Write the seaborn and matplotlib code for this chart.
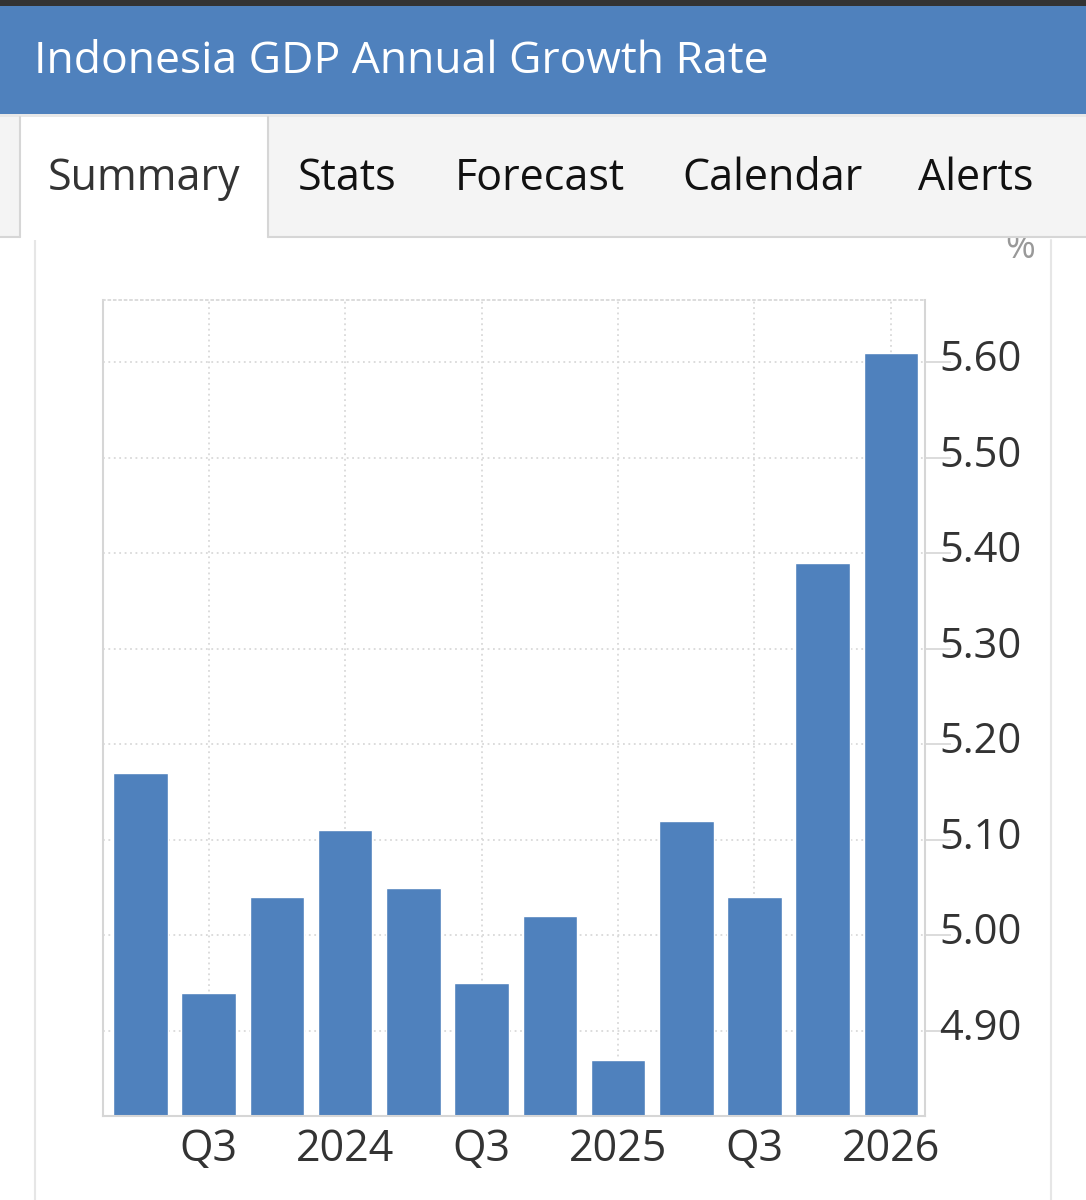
import matplotlib
matplotlib.use("Agg")
import matplotlib.pyplot as plt
import seaborn as sns
import pandas as pd
from matplotlib.patches import Rectangle
from matplotlib.lines import Line2D
from matplotlib.transforms import ScaledTranslation

# ---- data ----
quarters = ["Q2 2023", "Q3 2023", "Q4 2023", "Q1 2024", "Q2 2024", "Q3 2024",
            "Q4 2024", "Q1 2025", "Q2 2025", "Q3 2025", "Q4 2025", "Q1 2026"]
growth = [5.17, 4.94, 5.04, 5.11, 5.05, 4.95, 5.02, 4.87, 5.12, 5.04, 5.39, 5.61]
tick_quarters = ["Q3 2023", "Q1 2024", "Q3 2024", "Q1 2025", "Q3 2025", "Q1 2026"]
tick_labels = ["Q3", "2024", "Q3", "2025", "Q3", "2026"]
y_ticks = [4.90, 5.00, 5.10, 5.20, 5.30, 5.40, 5.50, 5.60]
title = "Indonesia GDP Annual Growth Rate"
tabs = ["Summary", "Stats", "Forecast", "Calendar", "Alerts"]

df = pd.DataFrame({"quarter": quarters, "growth": growth})

sns.set_theme(style="white")
plt.rcParams['font.family'] = ['Open Sans', 'DejaVu Sans']

W, H = 1086, 1200
fig = plt.figure(figsize=(W / 100, H / 100), dpi=100)
fig.patch.set_facecolor("white")

BLUE = "#4f81bd"
BORDER = "#d6d6d6"


def box(x0, y0, x1, y1, color, z=0):
    fig.patches.append(Rectangle((x0 / W, 1 - y1 / H), (x1 - x0) / W, (y1 - y0) / H,
                                 transform=fig.transFigure, facecolor=color,
                                 edgecolor="none", zorder=z))


def line(x0, y0, x1, y1, color=BORDER, lw=1.5, z=3):
    fig.lines.append(Line2D([x0 / W, x1 / W], [1 - y0 / H, 1 - y1 / H],
                            transform=fig.transFigure, color=color, lw=lw, zorder=z))


# page chrome
box(0, 0, W, 6, "#333333", z=1)
box(0, 6, W, 114, BLUE, z=1)
box(0, 114, W, 117, "#e8e8e8", z=1)
box(0, 117, W, 237, "#f4f4f4", z=2)
box(20, 117, 268, 240, "white", z=2.5)
line(0, 237, 20, 237, z=3)
line(268, 237, W, 237, z=3)
line(20, 117, 20, 237, z=3)
line(268, 117, 268, 237, z=3)
line(35, 240, 35, H, color="#e6e6e6", lw=1.5, z=1)
line(1051, 240, 1051, H, color="#e6e6e6", lw=1.5, z=1)

fig.text(34 / W, 1 - 62 / H, title, color="white", fontsize=32, fontweight="medium",
         ha="left", va="center", zorder=3)
tab_x = [48, 298, 455, 682, 918]
for i, (t, x) in enumerate(zip(tabs, tab_x)):
    fig.text(x / W, 1 - 179 / H, t, color="#333333" if i == 0 else "#111111",
             fontsize=31, ha="left", va="center", zorder=3)

fig.text(1020 / W, 1 - 249 / H, "%", color="#999999", fontsize=26,
         ha="center", va="center", zorder=1)

# ---- chart ----
ax = fig.add_axes([103 / W, 1 - 1116 / H, (925 - 103) / W, (1116 - 300) / H])
ax.set_facecolor("white")
sns.barplot(data=df, x="quarter", y="growth", color=BLUE, saturation=1,
            width=0.8, ax=ax, zorder=2)
ax.set_xlim(-0.55, 11.5)
ax.set_ylim(4.811, 5.665)

ax.set_xticks([quarters.index(q) for q in tick_quarters])
ax.set_xticklabels(tick_labels)
ax.yaxis.tick_right()
ax.set_yticks(y_ticks)
ax.set_yticklabels([f"{v:.2f}" for v in y_ticks])
ax.set_xlabel("")
ax.set_ylabel("")

ax.tick_params(axis="x", length=0, pad=8, labelsize=31, labelcolor="#333333")
ax.tick_params(axis="y", right=True, left=False, length=19, width=1.2,
               color=BORDER, pad=-9, labelsize=30, labelcolor="#333333")
shift = ScaledTranslation(0, 7 / 100, fig.dpi_scale_trans)
for lab in ax.get_yticklabels():
    lab.set_transform(lab.get_transform() + shift)

ax.set_axisbelow(True)
ax.grid(True, linestyle=(0, (1, 2)), color="#d9d9d9", linewidth=1.3)

for s in ["left", "right", "bottom"]:
    ax.spines[s].set_visible(True)
    ax.spines[s].set_color(BORDER)
    ax.spines[s].set_linewidth(1.5)
ax.spines["top"].set_visible(True)
ax.spines["top"].set_color("#d9d9d9")
ax.spines["top"].set_linestyle((0, (1, 2)))
ax.spines["top"].set_linewidth(1.3)

fig.savefig("out.png", dpi=100, facecolor="white")
